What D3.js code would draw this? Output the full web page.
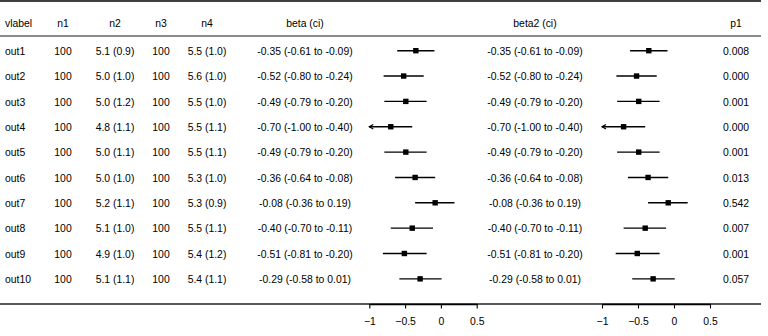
<!DOCTYPE html>
<html>
<head>
<meta charset="utf-8">
<script src="https://cdn.jsdelivr.net/npm/d3@7"></script>
<style>
    body { margin: 0; background: white; }
    text { font-family: "Liberation Sans", Arial, sans-serif; font-size: 10.4px; fill: black; }
</style>
</head>
<body>
<div id="forest-table" style="width: 768px; height: 336px;"></div>
<script>

// table data
let vlabels = ["out1", "out2", "out3", "out4", "out5", "out6", "out7", "out8", "out9", "out10"];
let n1 = [100, 100, 100, 100, 100, 100, 100, 100, 100, 100];
let n2 = ["5.1 (0.9)", "5.0 (1.0)", "5.0 (1.2)", "4.8 (1.1)", "5.0 (1.1)", "5.0 (1.0)", "5.2 (1.1)", "5.1 (1.0)", "4.9 (1.0)", "5.1 (1.1)"];
let n3 = [100, 100, 100, 100, 100, 100, 100, 100, 100, 100];
let n4 = ["5.5 (1.0)", "5.6 (1.0)", "5.5 (1.0)", "5.5 (1.1)", "5.5 (1.1)", "5.3 (1.0)", "5.3 (0.9)", "5.5 (1.1)", "5.4 (1.2)", "5.4 (1.1)"];
let beta = [-0.35, -0.52, -0.49, -0.70, -0.49, -0.36, -0.08, -0.40, -0.51, -0.29];
let betaLow = [-0.61, -0.80, -0.79, -1.00, -0.79, -0.64, -0.36, -0.70, -0.81, -0.58];
let betaHigh = [-0.09, -0.24, -0.20, -0.40, -0.20, -0.08, 0.19, -0.11, -0.20, 0.01];
let beta2 = [-0.35, -0.52, -0.49, -0.70, -0.49, -0.36, -0.08, -0.40, -0.51, -0.29];
let beta2Low = [-0.61, -0.80, -0.79, -1.00, -0.79, -0.64, -0.36, -0.70, -0.81, -0.58];
let beta2High = [-0.09, -0.24, -0.20, -0.40, -0.20, -0.08, 0.19, -0.11, -0.20, 0.01];
let p1 = ["0.008", "0.000", "0.001", "0.000", "0.001", "0.013", "0.542", "0.007", "0.001", "0.057"];
let xTicks = [-1, -0.5, 0, 0.5];
let xLimits = [-1, 0.5];

class ForestTable {

    constructor(parentElement) {
        this.parentElement = parentElement;
        this.initVis();
    }

    initVis() {
        let vis = this;

        vis.width = 768;
        vis.height = 336;

        vis.svg = d3.select("#" + vis.parentElement).append("svg")
            .attr("width", vis.width)
            .attr("height", vis.height);

        vis.headerY = 23;
        vis.rowY = d3.scaleLinear().domain([0, 1]).range([51.2, 76.55]);
        vis.axisY = 304;

        // the two forest panels share limits
        vis.x1 = d3.scaleLinear().domain(xLimits).range([369.3, 476.7]);
        vis.x2 = d3.scaleLinear().domain(xLimits).range([602, 710]);

        // plain hyphen for negatives in the table cells
        vis.fmt = v => v.toFixed(2);
        vis.ci = (i, b, lo, hi) => `${vis.fmt(b[i])} (${vis.fmt(lo[i])} to ${vis.fmt(hi[i])})`;

        vis.columns = [
            {title: "vlabel", x: 5, anchor: "start", value: i => vlabels[i]},
            {title: "n1", x: 63, anchor: "middle", value: i => n1[i]},
            {title: "n2", x: 115, anchor: "middle", value: i => n2[i]},
            {title: "n3", x: 161, anchor: "middle", value: i => n3[i]},
            {title: "n4", x: 207, anchor: "middle", value: i => n4[i]},
            {title: "beta (ci)", x: 305, anchor: "middle", value: i => vis.ci(i, beta, betaLow, betaHigh)},
            {title: "beta2 (ci)", x: 535, anchor: "middle", value: i => vis.ci(i, beta2, beta2Low, beta2High)},
            {title: "p1", x: 736, anchor: "middle", value: i => p1[i]}
        ];

        vis.updateVis();
    }

    updateVis() {
        let vis = this;
        let rows = d3.range(vlabels.length);

        // borders
        vis.svg.append("line")
            .attr("x1", 0).attr("x2", 761)
            .attr("y1", 1).attr("y2", 1)
            .attr("stroke", "black").attr("stroke-width", 1.5);

        vis.svg.append("line")
            .attr("x1", 0).attr("x2", 761)
            .attr("y1", 36).attr("y2", 36)
            .attr("stroke", "#8a8a8a").attr("stroke-width", 1.8);

        vis.svg.append("line")
            .attr("x1", 0).attr("x2", 761)
            .attr("y1", vis.axisY).attr("y2", vis.axisY)
            .attr("stroke", "#222").attr("stroke-width", 1.3);

        // header and body text
        vis.columns.forEach(col => {
            vis.svg.append("text")
                .attr("x", col.x)
                .attr("y", vis.headerY)
                .attr("dy", "0.36em")
                .attr("text-anchor", col.anchor)
                .text(col.title);

            vis.svg.selectAll(null)
                .data(rows)
                .enter().append("text")
                .attr("x", col.x)
                .attr("y", d => vis.rowY(d))
                .attr("dy", "0.36em")
                .attr("text-anchor", col.anchor)
                .text(d => col.value(d));
        });

        vis.drawPanel(vis.x1, beta, betaLow, betaHigh);
        vis.drawPanel(vis.x2, beta2, beta2Low, beta2High);
    }

    drawPanel(x, est, lo, hi) {
        let vis = this;
        let rows = d3.range(est.length);
        let g = vis.svg.append("g");

        g.selectAll(".ci")
            .data(rows)
            .enter().append("line")
            .attr("x1", d => x(Math.max(lo[d], xLimits[0])))
            .attr("x2", d => x(Math.min(hi[d], xLimits[1])))
            .attr("y1", d => vis.rowY(d) - 0.5)
            .attr("y2", d => vis.rowY(d) - 0.5)
            .attr("stroke", "black")
            .attr("stroke-width", 1.4);

        // open arrowhead where the interval runs past the lower limit
        g.selectAll(".arrow")
            .data(rows.filter(d => lo[d] <= xLimits[0]))
            .enter().append("path")
            .attr("d", d => {
                let ax = x(xLimits[0]), ay = vis.rowY(d) - 0.5;
                return `M${ax + 4},${ay - 2.3}L${ax},${ay}L${ax + 4},${ay + 2.3}`;
            })
            .attr("fill", "none")
            .attr("stroke", "black")
            .attr("stroke-width", 1.2);

        g.selectAll(".est")
            .data(rows)
            .enter().append("rect")
            .attr("x", d => x(est[d]) - 2.7)
            .attr("y", d => vis.rowY(d) - 3.2)
            .attr("width", 5.4)
            .attr("height", 5.4)
            .attr("fill", "black");

        let axis = g.append("g")
            .attr("transform", `translate(0, ${vis.axisY})`)
            .call(d3.axisBottom(x).tickValues(xTicks).tickSize(4.5).tickSizeOuter(0).tickFormat(d3.format("")));

        axis.select(".domain").attr("stroke", "black").attr("stroke-width", 1.3);
        axis.selectAll(".tick line").attr("stroke", "black").attr("stroke-width", 1.1);
        axis.selectAll(".tick text")
            .attr("y", 14)
            .attr("font-family", "Liberation Sans, Arial, sans-serif")
            .attr("font-size", 9.8)
            .attr("fill", "black");
    }
}

new ForestTable("forest-table");

</script>
</body>
</html>
